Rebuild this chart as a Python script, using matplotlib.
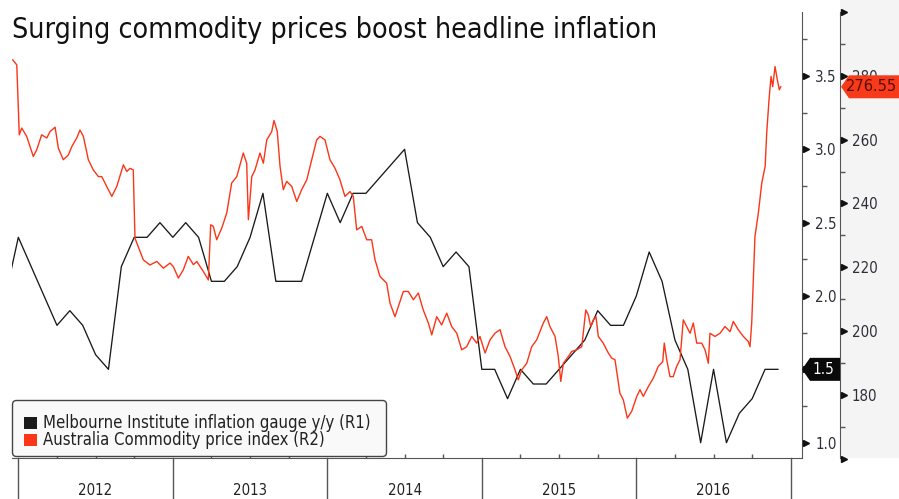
import matplotlib
matplotlib.use('Agg')
import matplotlib.pyplot as plt
import matplotlib.transforms as mtrans
from matplotlib import font_manager as fm
from matplotlib.font_manager import FontProperties
from matplotlib.patches import Rectangle, Polygon, FancyBboxPatch
from matplotlib.lines import Line2D
import numpy as np
import pandas as pd

# ---------------- data ----------------
title = "Surging commodity prices boost headline inflation"
legend_labels = ["Melbourne Institute inflation gauge y/y (R1)",
                 "Australia Commodity price index (R2)"]
years = [2012, 2013, 2014, 2015, 2016]
r1_ticks = [1.0, 1.5, 2.0, 2.5, 3.0, 3.5]
r1_labels = ["1.0", "1.5", "2.0", "2.5", "3.0", "3.5"]
r2_ticks = [180, 200, 220, 240, 260, 280]
r2_labels = ["180", "200", "220", "240", "260", "280"]

# Melbourne Institute inflation gauge y/y, monthly (month-end), Nov 2011 .. Nov 2016
gauge_dates = pd.date_range("2011-11-30", "2016-11-30", freq="ME")
gauge_values = [2.0, 2.4,
                2.2, 2.0, 1.8, 1.9, 1.8, 1.6, 1.5, 2.2, 2.4, 2.4, 2.5, 2.4,
                2.5, 2.4, 2.1, 2.1, 2.2, 2.4, 2.7, 2.1, 2.1, 2.1, 2.4, 2.7,
                2.5, 2.7, 2.7, 2.8, 2.9, 3.0, 2.5, 2.4, 2.2, 2.3, 2.2, 1.5,
                1.5, 1.3, 1.5, 1.4, 1.4, 1.5, 1.6, 1.7, 1.9, 1.8, 1.8, 2.0,
                2.3, 2.1, 1.7, 1.5, 1.0, 1.5, 1.0, 1.2, 1.3, 1.5, 1.5]

# Australia commodity price index (decimal year, value)
comm_t = [2011.964, 2011.990, 2012.006, 2012.022, 2012.054, 2012.097, 2012.119, 2012.151,
          2012.184, 2012.205, 2012.238, 2012.259, 2012.291, 2012.324, 2012.346, 2012.378,
          2012.399, 2012.421, 2012.453, 2012.485, 2012.518, 2012.540, 2012.572, 2012.605,
          2012.637, 2012.680, 2012.702, 2012.723, 2012.744, 2012.755, 2012.809, 2012.852,
          2012.896, 2012.939, 2012.982, 2013.003, 2013.036, 2013.068, 2013.100, 2013.133,
          2013.155, 2013.197, 2013.230, 2013.245, 2013.262, 2013.284, 2013.317, 2013.349,
          2013.381, 2013.414, 2013.435, 2013.456, 2013.478, 2013.489, 2013.511, 2013.532,
          2013.564, 2013.586, 2013.608, 2013.640, 2013.655, 2013.676, 2013.694, 2013.715,
          2013.737, 2013.770, 2013.802, 2013.834, 2013.867, 2013.899, 2013.931, 2013.953,
          2013.985, 2014.017, 2014.050, 2014.082, 2014.114, 2014.147, 2014.168, 2014.190,
          2014.223, 2014.255, 2014.287, 2014.309, 2014.341, 2014.384, 2014.406, 2014.438,
          2014.460, 2014.492, 2014.524, 2014.557, 2014.589, 2014.621, 2014.654, 2014.676,
          2014.708, 2014.740, 2014.773, 2014.805, 2014.838, 2014.870, 2014.902, 2014.935,
          2014.967, 2014.988, 2015.021, 2015.053, 2015.085, 2015.118, 2015.150, 2015.183,
          2015.215, 2015.236, 2015.258, 2015.291, 2015.323, 2015.355, 2015.398, 2015.420,
          2015.441, 2015.474, 2015.495, 2015.511, 2015.528, 2015.560, 2015.582, 2015.614,
          2015.647, 2015.673, 2015.689, 2015.705, 2015.722, 2015.739, 2015.754, 2015.786,
          2015.819, 2015.841, 2015.862, 2015.894, 2015.916, 2015.942, 2015.970, 2016.003,
          2016.024, 2016.045, 2016.078, 2016.110, 2016.142, 2016.171, 2016.181, 2016.197,
          2016.218, 2016.239, 2016.261, 2016.283, 2016.304, 2016.326, 2016.348, 2016.369,
          2016.391, 2016.423, 2016.445, 2016.466, 2016.477, 2016.509, 2016.542, 2016.574,
          2016.607, 2016.628, 2016.660, 2016.693, 2016.725, 2016.736, 2016.747, 2016.768,
          2016.790, 2016.812, 2016.834, 2016.844, 2016.859, 2016.872, 2016.883, 2016.898,
          2016.913, 2016.926, 2016.935]
comm_v = [285.0, 283.4, 261.5, 263.6, 261.0, 254.7, 256.8, 261.5,
          260.5, 262.5, 263.9, 257.3, 253.7, 255.2, 257.8, 260.5,
          263.0, 261.0, 253.7, 250.5, 248.4, 248.4, 245.3, 242.2,
          245.3, 252.1, 250.0, 251.0, 250.5, 229.1, 222.3, 220.7,
          221.8, 219.7, 221.3, 220.2, 216.6, 219.2, 223.4, 220.8,
          221.8, 218.7, 216.0, 233.3, 232.8, 228.6, 232.3, 237.0,
          246.4, 248.4, 252.1, 255.8, 252.6, 234.9, 248.4, 250.5,
          255.8, 252.6, 259.9, 262.5, 266.0, 262.5, 251.6, 244.3,
          246.9, 245.3, 240.6, 244.3, 247.4, 253.7, 259.9, 261.0,
          259.9, 253.7, 251.0, 247.4, 242.2, 243.7, 242.2, 231.7,
          232.8, 228.6, 228.6, 222.3, 217.1, 215.0, 208.7, 204.5,
          207.7, 212.4, 212.4, 209.8, 211.9, 206.6, 202.5, 198.8,
          204.5, 201.9, 205.6, 201.4, 199.3, 194.1, 195.1, 198.3,
          196.2, 198.3, 193.1, 197.2, 199.3, 200.4, 195.1, 192.0,
          187.8, 184.7, 187.8, 189.9, 195.1, 197.2, 202.5, 204.5,
          201.4, 198.3, 192.0, 184.2, 189.9, 192.0, 193.6, 194.1,
          195.1, 206.6, 205.1, 201.4, 203.5, 204.5, 198.3, 196.2,
          193.1, 191.5, 191.0, 180.5, 178.4, 172.7, 174.8, 179.5,
          181.6, 179.5, 182.6, 185.2, 188.9, 190.4, 196.2, 191.0,
          185.7, 185.7, 188.9, 191.0, 203.5, 201.4, 199.3, 202.5,
          196.2, 196.2, 194.1, 189.9, 199.3, 198.3, 199.3, 201.4,
          199.8, 203.0, 200.4, 198.3, 196.7, 195.1, 202.5, 229.6,
          237.0, 246.4, 251.6, 262.0, 272.5, 279.8, 276.6, 282.9,
          278.7, 275.6, 276.55]

# ---------------- fonts ----------------
def pick_font():
    for fam, st in [("DejaVu Sans Condensed", "normal"), ("DejaVu Sans", "condensed")]:
        try:
            p = fm.findfont(FontProperties(family=fam, stretch=st), fallback_to_default=False)
            if "Condensed" in p and "Bold" not in p and "Oblique" not in p:
                return fam, st
        except Exception:
            pass
    return "DejaVu Sans", "normal"

FAM, STR = pick_font()
plt.rcParams["font.family"] = FAM
plt.rcParams["font.stretch"] = STR

# ---------------- colors ----------------
RED = "#fa3518"
BLACK = "#1a1a1a"
AXC = "#555555"
TXT = "#2e2e3a"

# ---------------- layout ----------------
W, H = 899, 499
fig = plt.figure(figsize=(W / 100, H / 100), dpi=100)
fig.patch.set_facecolor("white")

def fx(p):
    return p / W

def fy(p):
    return 1 - p / H

L, R, T, B = 12, 802, 12, 457.5
R2X = 840
ax = fig.add_axes([fx(L), fy(B), (R - L) / W, (B - T) / H])
ax2 = ax.twinx()
ax.yaxis.tick_right()

ax.set_xlim(2011.959, 2017.0725)
ax.set_ylim(0.899, 3.936)
ax2.set_ylim(160.35, 300.0)

# gray strip right of the R2 axis
fig.add_artist(Rectangle((fx(R2X), fy(B)), 1 - fx(R2X), 1 - fy(B), transform=fig.transFigure,
                         facecolor="#f4f4f4", edgecolor="none", zorder=-1))

# spines
for s in ["top", "left"]:
    ax.spines[s].set_visible(False)
ax.spines["bottom"].set_color(AXC)
ax.spines["right"].set_color(AXC)
for s in ["top", "left", "bottom"]:
    ax2.spines[s].set_visible(False)
ax2.spines["right"].set_position(("axes", (R2X - L) / (R - L)))
ax2.spines["right"].set_color(AXC)

# lines
gauge_t = [d.year + d.month / 12.0 for d in gauge_dates]
ax.plot(gauge_t, gauge_values, color=BLACK, lw=0.95, zorder=3)
ax2.plot(comm_t, comm_v, color=RED, lw=1.0, zorder=3)

# R1 ticks (the label under the last-value tag is shown by the tag itself)
last_g = gauge_values[-1]
ax.set_yticks(r1_ticks)
ax.set_yticklabels(["" if abs(v - last_g) < 0.12 else s for v, s in zip(r1_ticks, r1_labels)])
ax.set_yticks(np.arange(1.25, 3.9, 0.5), minor=True)
ax.tick_params(axis="y", which="major", length=0, pad=9.5, labelsize=10.8, labelcolor=TXT)
ax.tick_params(axis="y", which="minor", length=3.5, width=1, direction="out", color=AXC)
tr1 = ax.get_yaxis_transform()
ax.plot([1.0 + 3.5 / (R - L)] * len(r1_ticks), r1_ticks, ls="none", marker=">", ms=5,
        color="#111111", transform=tr1, clip_on=False, zorder=5)

# R2 ticks
ax2.set_yticks(r2_ticks)
ax2.set_yticklabels(r2_labels)
ax2.set_yticks(np.arange(170, 295, 20), minor=True)
ax2.tick_params(axis="y", which="major", length=0, pad=8.5, labelsize=10.8, labelcolor=TXT)
ax2.tick_params(axis="y", which="minor", length=3.5, width=1, direction="out", color=AXC)
tr2 = ax2.get_yaxis_transform()
tri2 = list(range(160, 301, 20))
ax2.plot([(R2X - L + 3.5) / (R - L)] * len(tri2), tri2, ls="none", marker=">", ms=5,
         color="#111111", transform=tr2, clip_on=False, zorder=5)

# x axis: quarter ticks, year separators and labels
ax.set_xticks(list(range(2012, 2018)))
ax.tick_params(axis="x", which="major", length=0, labelbottom=False)
quarters = [y + q for y in range(2012, 2017) for q in (0.25, 0.5, 0.75)]
ax.set_xticks(quarters, minor=True)
ax.tick_params(axis="x", which="minor", direction="in", length=3, width=1, color=AXC)

btr = mtrans.blended_transform_factory(ax.transData, fig.transFigure)
for yr in range(2012, 2018):
    fig.add_artist(Line2D([yr, yr], [fy(458), 0], transform=btr, color=AXC, lw=1))

fig.canvas.draw()
rend = fig.canvas.get_renderer()

def fit(t, width):
    bb = t.get_window_extent(renderer=rend)
    t.set_fontsize(t.get_fontsize() * width / bb.width)
    return t.get_fontsize()

ylabels = []
for yr in years:
    ylabels.append(fig.text(yr + 0.5, fy(490.5), str(yr), transform=btr, ha="center",
                            va="center", fontsize=11, color="#222222"))
ys = fit(ylabels[0], 34)
for t in ylabels:
    t.set_fontsize(ys)

# title
tt = fig.text(fx(12), fy(38.3), title, ha="left", va="baseline", fontsize=18, color="#111111")
fit(tt, 646)

# legend
IT = mtrans.IdentityTransform()
fig.add_artist(FancyBboxPatch((12.5, H - 456.5), 374, 56,
                              boxstyle="round,pad=0,rounding_size=4", transform=IT,
                              facecolor="#f9f9f9", edgecolor="#444444", lw=1, zorder=6))
sq_cols = [BLACK, RED]
row_y = [422.5, 440.0]
ltexts = []
for lab, col, yy in zip(legend_labels, sq_cols, row_y):
    fig.add_artist(Rectangle((23.5, H - yy - 6), 13.5, 12, transform=IT,
                             facecolor=col, edgecolor="none", zorder=7))
    ltexts.append(fig.text(43, H - yy, lab, transform=IT, ha="left", va="center",
                           fontsize=10.5, color="#222222", zorder=8))
ls_ = fit(ltexts[0], 331)
ltexts[1].set_fontsize(ls_)

# last-value tags
yb = ax.transData.transform((2016.9, last_g))[1]
hb = 11.5
fig.add_artist(Polygon([(R, yb), (R + 8, yb + hb), (R2X, yb + hb), (R2X, yb - hb), (R + 8, yb - hb)],
                       closed=True, transform=IT, facecolor="#0a0a0a", edgecolor="none", zorder=9))
tb = fig.text((R + 4 + R2X) / 2, yb, f"{last_g:.1f}", transform=IT, ha="center",
              va="center", color="white", fontsize=11, zorder=10)

yr_ = ax2.transData.transform((2016.9, comm_v[-1]))[1]
fig.add_artist(Polygon([(R2X + 1, yr_), (R2X + 9, yr_ + hb), (W + 2, yr_ + hb), (W + 2, yr_ - hb),
                        (R2X + 9, yr_ - hb)], closed=True, transform=IT, facecolor="#f63a1a",
                       edgecolor="none", zorder=9))
tr_ = fig.text(846, yr_, f"{comm_v[-1]:.2f}", transform=IT, ha="left", va="center",
               color="#5a0c00", fontsize=11, zorder=10)
fit(tr_, 51)

fig.savefig("out.png", dpi=100, facecolor="white")
